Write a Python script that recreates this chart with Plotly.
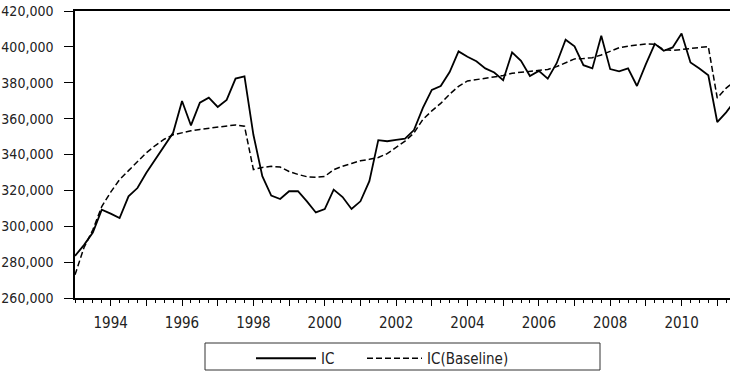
import plotly.graph_objects as go

# Quarterly observations 1993Q1 ... 2011Q3
quarters = [f"{y}Q{q}" for y in range(1993, 2012) for q in range(1, 5)][:75]

ic = [283.5, 289.5, 296.5, 309.2, 307.0, 304.6, 316.7, 321.3, 329.8, 337.2,
      344.6, 352.1, 369.8, 356.2, 368.9, 371.7, 366.5, 370.4, 382.3, 383.5,
      351.0, 327.9, 317.1, 315.2, 319.5, 319.5, 313.9, 307.7, 309.6, 320.4,
      316.3, 309.6, 313.9, 325.1, 348.0, 347.4, 348.1, 348.8, 353.6, 366.0,
      376.0, 378.2, 386.0, 397.5, 394.5, 392.0, 388.0, 385.7, 381.4, 396.9,
      392.2, 383.8, 386.6, 382.3, 390.9, 404.0, 400.3, 389.8, 388.0, 406.2,
      387.6, 386.4, 388.0, 378.2, 390.4, 401.7, 397.8, 399.7, 407.5, 391.3,
      387.9, 384.2, 358.1, 363.5, 370.0]

ic_baseline = [272.9, 288.0, 298.0, 311.0, 319.0, 326.0, 331.0, 336.0, 341.0, 345.0,
               348.5, 351.0, 352.3, 353.2, 354.0, 354.6, 355.5, 356.2, 356.5, 355.8,
               331.6, 332.8, 333.4, 333.0, 330.5, 328.9, 327.6, 327.3, 327.8, 331.5,
               333.5, 335.0, 336.5, 337.3, 338.3, 340.5, 344.0, 347.5, 352.0, 359.5,
               364.3, 368.5, 373.6, 378.0, 381.0, 381.8, 382.2, 383.0, 384.0, 385.3,
               385.8, 386.3, 386.5, 387.4, 389.0, 391.0, 393.3, 393.5, 394.0, 395.5,
               397.5, 399.5, 400.4, 401.2, 401.6, 401.5, 398.5, 398.0, 398.5, 399.1,
               399.7, 400.2, 371.5, 377.0, 381.0]

year_ticks = list(range(1994, 2012))
year_labels = [str(y) if y % 2 == 0 else "" for y in year_ticks]

def q_to_num(s):
    return int(s[:4]) + (int(s[-1]) - 1) / 4.0

x = [q_to_num(s) for s in quarters]
ic_vals = [v * 1000 for v in ic]
base_vals = [v * 1000 for v in ic_baseline]

FONT = "DejaVu Sans Condensed, DejaVu Sans, sans-serif"
FS = 15
TXT = "#222222"

fig = go.Figure()
fig.add_trace(go.Scatter(x=x, y=ic_vals, mode="lines", name="IC",
                         legend="legend",
                         line=dict(color="#000000", width=1.8)))
fig.add_trace(go.Scatter(x=x, y=base_vals, mode="lines", name="IC(Baseline)",
                         legend="legend2",
                         line=dict(color="#000000", width=1.5, dash="6px,3px")))

L, R, T, B = 75, 0, 11, 73
W, H = 730, 371
pw, ph = W - L - R, H - T - B

def px_x(p):
    return (p - L) / pw

def px_y(p):
    return (H - B - p) / ph

leg_common = dict(orientation="h", xanchor="left", yanchor="top",
                  y=px_y(342), bgcolor="rgba(0,0,0,0)", borderwidth=0,
                  font=dict(family=FONT, size=FS, color=TXT))

fig.update_layout(
    width=W, height=H,
    margin=dict(l=L, r=R, t=T, b=B, pad=0, autoexpand=False),
    paper_bgcolor="white", plot_bgcolor="white",
    font=dict(family=FONT, size=FS, color=TXT),
    showlegend=True,
    legend=dict(x=px_x(251), itemwidth=60, **leg_common),
    legend2=dict(x=px_x(362), itemwidth=55, **leg_common),
    shapes=[dict(type="rect", xref="paper", yref="paper",
                 x0=px_x(205), x1=px_x(600), y0=px_y(370), y1=px_y(343),
                 line=dict(color="#333333", width=1), fillcolor="rgba(0,0,0,0)")],
)

fig.update_xaxes(
    range=[1993, 1993 + pw / 35.68],
    tickmode="array", tickvals=year_ticks, ticktext=year_labels,
    ticks="outside", ticklen=6, tickwidth=1, tickcolor="#000000",
    minor=dict(dtick=0.25, tick0=1993, ticks="outside", ticklen=3,
               tickwidth=1, tickcolor="#000000", showgrid=False),
    showline=True, linecolor="#000000", linewidth=1.5, mirror=True,
    showgrid=False, zeroline=False, ticklabelstandoff=4,
)
fig.update_yaxes(
    range=[260000, 420000], dtick=20000, tick0=260000, tickformat=",",
    tickfont=dict(family=FONT, size=14, color=TXT),
    ticks="outside", ticklen=9, tickwidth=1, tickcolor="#000000",
    showline=True, linecolor="#000000", linewidth=1.5, mirror=False,
    showgrid=False, zeroline=False, ticklabelstandoff=8,
)

fig.write_html("out.html")
